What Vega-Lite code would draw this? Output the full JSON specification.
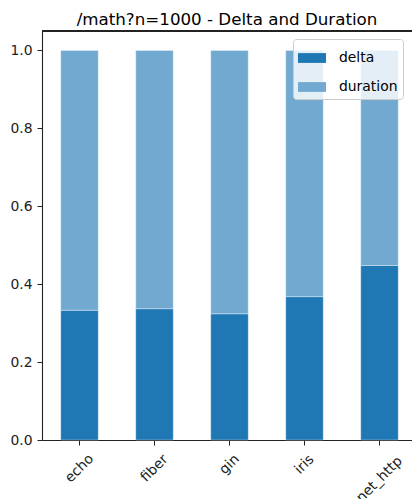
{
  "$schema": "https://vega.github.io/schema/vega-lite/v6.json",
  "autosize": {"type": "none"},
  "padding": {"left": 42, "top": 31, "right": 0, "bottom": 59},
  "width": 370,
  "height": 409,
  "background": "white",
  "title": {
    "text": "/math?n=1000 - Delta and Duration",
    "font": "DejaVu Sans",
    "fontSize": 16.7,
    "fontWeight": "normal",
    "color": "#000000",
    "anchor": "middle",
    "frame": "group",
    "baseline": "alphabetic",
    "offset": 8,
    "dy": 19
  },
  "config": {
    "view": {"stroke": null},
    "font": "DejaVu Sans"
  },
  "data": {
    "values": [
      {"framework": "echo", "series": "delta", "value": 0.333},
      {"framework": "echo", "series": "duration", "value": 0.667},
      {"framework": "fiber", "series": "delta", "value": 0.337},
      {"framework": "fiber", "series": "duration", "value": 0.663},
      {"framework": "gin", "series": "delta", "value": 0.324},
      {"framework": "gin", "series": "duration", "value": 0.676},
      {"framework": "iris", "series": "delta", "value": 0.368},
      {"framework": "iris", "series": "duration", "value": 0.632},
      {"framework": "net_http", "series": "delta", "value": 0.448},
      {"framework": "net_http", "series": "duration", "value": 0.552}
    ]
  },
  "layer": [
    {
      "mark": {"type": "bar", "stroke": "#ffffff", "strokeOpacity": 0.35, "strokeWidth": 1},
      "encoding": {
        "x": {
          "field": "framework",
          "type": "nominal",
          "sort": null,
          "scale": {"range": [0, 375], "paddingInner": 0.5, "paddingOuter": 0.25},
          "axis": {
            "title": null,
            "labelAngle": -45,
            "labelAlign": "center",
            "labelBaseline": "middle",
            "labelPadding": {
              "condition": [
                {"test": "datum.label == 'net_http'", "value": 34},
                {"test": "datum.label == 'gin' || datum.label == 'iris'", "value": 19}
              ],
              "value": 23
            },
            "labelFont": "DejaVu Sans",
            "labelFontSize": 13.9,
            "labelColor": "#222222",
            "tickSize": 5,
            "tickColor": "#222222",
            "tickWidth": 1,
            "domainColor": "#222222",
            "domainWidth": 1.1
          }
        },
        "y": {
          "field": "value",
          "type": "quantitative",
          "stack": "zero",
          "scale": {"domain": [0, 1.05], "nice": false, "zero": true},
          "axis": {
            "title": null,
            "values": [0, 0.2, 0.4, 0.6, 0.8, 1.0],
            "format": ".1f",
            "grid": false,
            "labelFont": "DejaVu Sans",
            "labelFontSize": 13.9,
            "labelColor": "#222222",
            "labelPadding": 5,
            "tickSize": 5,
            "tickColor": "#222222",
            "tickWidth": 1,
            "domainColor": "#222222",
            "domainWidth": 1.1
          }
        },
        "color": {
          "field": "series",
          "type": "nominal",
          "scale": {"domain": ["delta", "duration"], "range": ["#1f77b4", "#72a9d0"]},
          "legend": {
            "title": null,
            "orient": "none",
            "legendX": 251,
            "legendY": 8,
            "padding": 5,
            "fillColor": "rgba(255,255,255,0.8)",
            "strokeColor": "#cccccc",
            "cornerRadius": 3,
            "symbolType": "M-1,-0.35H1V0.35H-1Z",
            "symbolSize": 784,
            "symbolStrokeWidth": 0,
            "symbolOpacity": 1,
            "labelFont": "DejaVu Sans",
            "labelFontSize": 13.9,
            "labelColor": "#000000",
            "labelOffset": 13,
            "rowPadding": 8
          }
        },
        "order": {"field": "series", "sort": "ascending"}
      }
    },
    {
      "mark": {"type": "rule", "color": "#222222", "strokeWidth": 1.1},
      "encoding": {
        "y": {"datum": 1.05, "type": "quantitative"}
      }
    }
  ]
}
